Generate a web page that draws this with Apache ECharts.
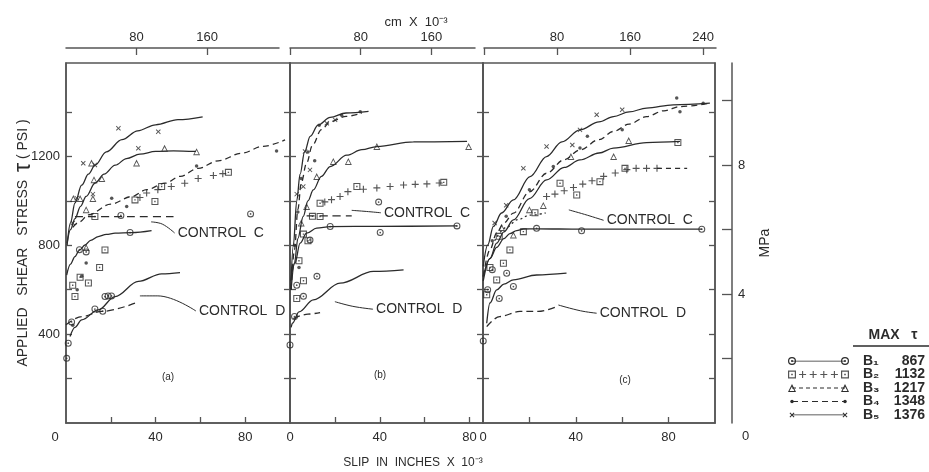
<!DOCTYPE html>
<html><head><meta charset="utf-8">
<script src="https://cdn.jsdelivr.net/npm/echarts@6/dist/echarts.min.js"></script>
<style>html,body{margin:0;padding:0;background:#fff}#c{width:929px;height:472px}</style>
</head><body><div id="c"></div>
<script>
// ---------- axes / ticks ----------
const slipMax = [100, 86, 100];          // slip, inches x 10^-3, per panel
const stressMax = 1620;                  // psi
const bottomTicks = [20, 40, 60, 80];
const bottomLabels = [0, 40, 80];
const stressTicks = [200, 400, 600, 800, 1000, 1200, 1400];
const stressLabels = [400, 800, 1200];
const cmTicks = [[80, 160], [0, 80, 160], [0, 80, 160, 240]];
const cmLabels = [[80, 160], [80, 160], [80, 160, 240]];
const mpaTicks = [2, 4, 6, 8, 10];
const mpaLabels = [0, 4, 8];
const panelNames = ['(a)', '(b)', '(c)'];
const legendKeys = ['B1', 'B2', 'B3', 'B4', 'B5'];
const legendText = ['B\u2081', 'B\u2082', 'B\u2083', 'B\u2084', 'B\u2085'];
const maxTau = [867, 1132, 1217, 1348, 1376];

// ---------- panel (a) ----------
const a_B1_curve = [[0.3,666],[2,715],[4,749],[6,778],[8.5,801],[11,822],[14.4,839],[18,849],[21.9,854],[29.3,857],[38.2,866]];
const a_B1_pts = [[0.3,291],[1,359],[2.5,455],[17.4,569],[18.8,572],[20.3,572],[12.9,513],[16.4,503],[28.6,857],[24.5,934],[82.4,941],[6,780],[9,770]];
const a_B2_plus = [[33,1015],[36,1035],[41,1050],[47,1064],[53,1079],[59,1100],[65.8,1114],[70,1122]];
const a_B2_pts = [[30.8,1004],[39.7,997],[42.7,1064],[12.9,929],[17.4,779],[4,569],[6.3,656],[72.5,1128],[10,630],[3,620],[15,700]];
const a_B3_curve = [[0.5,810],[2,870],[4,920],[6.5,975],[9,1020],[13,1080],[17,1120],[22,1160],[27,1190],[33,1210],[40,1222],[48,1225],[58,1222]];
const a_B3_pts = [[3.3,1010],[6.3,1010],[9,960],[11.4,1170],[12.5,1095],[16,1100],[12,1010],[31.5,1170],[44,1236],[58.3,1221],[9,790]];
const a_B4_curve = [[3,880],[6,905],[10,937],[20,985],[29.3,1019],[36,1050],[44.2,1079],[51,1110],[59,1146],[68,1180],[78.4,1214],[88,1245],[97.8,1274]];
const a_B4_pts = [[20.4,1011],[27.1,974],[58.3,1157],[94,1224],[7,660],[5,600],[9,720],[3,440]];
const a_B5_curve = [[0.5,800],[2,900],[4,990],[7,1070],[10,1120],[13,1160],[18,1220],[25,1275],[32,1315],[40,1342],[50,1365],[61,1378]];
const a_B5_pts = [[7.7,1169],[12.9,1161],[23.4,1326],[32.3,1236],[41.2,1311],[4.8,1012],[3,900],[12,1030]];
const a_ctrlC = [[4,929],[20,929],[35,929],[48,929]];
const a_ctrlD = [[0,442],[7,479],[15.9,502],[30.8,539]];
const a_lower = [[1.8,389],[4,430],[7,464],[14.4,509],[21.9,569],[32.3,637],[42.7,671],[50.9,677]];
const a_leadC = [[38,905],[43,895],[48.5,855]];
const a_leadD = [[33,572],[41,572],[58,504]];

// ---------- panel (b) ----------
const b_B1_curve = [[0.3,640],[2.2,719],[4.5,809],[7.4,854],[11.9,877],[17.9,884],[40,885],[74.4,887]];
const b_B1_pts = [[17.9,884],[40.2,857],[74.4,887],[39.5,994],[8.9,824],[6,570],[0,351],[2,479],[12,660],[3,620]];
const b_B2_plus = [[15.5,995],[18.5,1005],[22.3,1019],[25.8,1041],[32.7,1052],[38.7,1058],[44.6,1064],[50.6,1071],[55.8,1074],[61,1076],[66.5,1080]];
const b_B2_pts = [[13.4,989],[29.8,1064],[13.4,929],[68.5,1083],[6,850],[8,820],[4,730],[6,640],[3,560],[10,930]];
const b_B3_curve = [[0.5,600],[2,720],[3.5,830],[5.9,930],[8,1000],[10.4,1049],[14,1110],[17.9,1154],[25.3,1205],[32,1230],[38.7,1244],[55,1265],[78.9,1267]];
const b_B3_pts = [[38.7,1244],[79.6,1244],[26,1177],[19.3,1177],[11.9,1109],[7.4,974],[5,900]];
const b_B4_curve = [[0.5,600],[2,780],[3.5,960],[5,1080],[7.4,1170],[10,1250],[14,1320],[18,1356],[25,1380],[32,1394]];
const b_B4_pts = [[31.3,1401],[23,1385],[13,1340],[8,1220],[5,1100],[11,1180],[3.5,950],[2,800],[4,700]];
const b_B5_curve = [[0.3,600],[1.5,800],[3,1000],[4.5,1120],[6.5,1220],[9,1290],[12.5,1340],[17.9,1375],[25,1395],[35,1402]];
const b_B5_pts = [[16.4,1349],[20.1,1364],[6.7,1222],[8.9,1139],[5.9,1064],[3,1030]];
const b_ctrlC = [[7.4,932],[17.9,932],[27.5,932]];
const b_ctrlD = [[1.5,470],[8,490],[13.4,497]];
const b_lower = [[0.5,430],[1.1,449],[4,500],[10.4,554],[22.3,629],[37.2,682],[50.6,689]];
const b_leadC = [[27.5,957],[34,952],[40.5,946]];
const b_leadD = [[20,546],[28,525],[37,512]];

// ---------- panel (c) ----------
const c_B1_curve = [[0.1,640],[3,740],[5.9,790],[9,830],[11.6,852],[14.5,866],[17.4,873],[23.1,874],[42.5,872],[94.3,872]];
const c_B1_pts = [[23.1,876],[42.5,865],[94.3,872],[13.1,614],[10.2,674],[0.1,369],[4,690],[2,600],[7,560]];
const c_B2_plus = [[27.4,1019],[31,1030],[35,1045],[39,1060],[43,1075],[47,1090],[52,1110],[57,1125],[62,1140],[66,1146],[70.5,1146],[75,1146]];
const c_B2_tail = [[75,1146],[88,1146]];
const c_B2_pts = [[61.2,1146],[50.4,1086],[40.4,1026],[33.2,1079],[22.4,946],[17.4,861],[11.6,779],[8.8,719],[5.9,644],[1.6,577],[84,1262],[3,700],[7,840]];
const c_B3_curve = [[0.1,659],[3,740],[5.9,809],[9,860],[13.1,914],[20,1010],[27.4,1094],[35,1150],[41.8,1184],[50,1215],[56.2,1237],[70.5,1262],[84.9,1267]];
const c_B3_pts = [[62.8,1271],[56.3,1199],[37.9,1199],[26,979],[13.1,846],[20,960],[8,880]];
const c_B4_curve = [[0.1,660],[3,780],[5.9,855],[9,900],[13.1,944],[20,1040],[27.4,1124],[35,1185],[41.8,1229],[50,1275],[56.2,1312],[63,1345],[70.5,1379],[78,1405],[84.9,1424],[97.8,1439]];
const c_B4_pts = [[83.5,1462],[94.9,1439],[84.9,1401],[41.8,1237],[30.3,1154],[60,1320],[45,1290],[20,1050],[10,930],[4,820]];
const c_B5_curve = [[0.1,705],[2,800],[4.5,885],[8,945],[13.1,1004],[20.3,1109],[27.4,1199],[34,1265],[41.8,1319],[50,1355],[56.2,1379],[63,1400],[70.5,1417],[82,1432],[97.8,1439]];
const c_B5_pts = [[27.4,1244],[17.4,1146],[49,1387],[38.5,1251],[41.8,1319],[10,980],[5,900],[60,1410]];
const c_ctrlC = [[5,820],[10,880],[15,915],[20,935],[27,945]];
const c_ctrlD = [[1.6,434],[7.2,479],[15.9,502],[23.8,502],[31.9,524]];
const c_lower = [[1.6,449],[3,540],[5.9,599],[9,625],[13.1,644],[23.1,666],[36,674]];
const c_leadC = [[37,959],[45,935],[52,912]];
const c_leadD = [[32.5,531],[42,505],[49,494]];

// ---------- legend sample positions (0..1 along the sample line) ----------
const legendEnds = [0, 1];
const legendPlusSteps = [0.2, 0.4, 0.6, 0.8];

// ---------- build ----------
const INK = '#2b2b2b', FRAME = '#555', FONT = 'Liberation Sans';
const SYM = {
  ring: 'path://M0,-10A10,10 0 1,1 0,10A10,10 0 1,1 0,-10Z M0,-7A7,7 0 1,0 0,7A7,7 0 1,0 0,-7Z M0,-2.5A2.5,2.5 0 1,1 0,2.5A2.5,2.5 0 1,1 0,-2.5Z',
  sq: 'path://M-10,-10H10V10H-10Z M-7,-7V7H7V-7Z M-2,-2H2V2H-2Z',
  tri: 'path://M0,-10L10,8H-10Z M0,-4.5L-6.2,5.6H6.2Z',
  plus: 'path://M-10,-1.6H-1.6V-10H1.6V-1.6H10V1.6H1.6V10H-1.6V1.6H-10Z',
  dot: 'circle'
};
const panels = [
  {B1c:a_B1_curve,B1p:a_B1_pts,B2x:a_B2_plus,B2p:a_B2_pts,B2t:null,B3c:a_B3_curve,B3p:a_B3_pts,B4c:a_B4_curve,B4p:a_B4_pts,B5c:a_B5_curve,B5p:a_B5_pts,C:a_ctrlC,D:a_ctrlD,L:a_lower,lc:a_leadC,ld:a_leadD},
  {B1c:b_B1_curve,B1p:b_B1_pts,B2x:b_B2_plus,B2p:b_B2_pts,B2t:null,B3c:b_B3_curve,B3p:b_B3_pts,B4c:b_B4_curve,B4p:b_B4_pts,B5c:b_B5_curve,B5p:b_B5_pts,C:b_ctrlC,D:b_ctrlD,L:b_lower,lc:b_leadC,ld:b_leadD},
  {B1c:c_B1_curve,B1p:c_B1_pts,B2x:c_B2_plus,B2p:c_B2_pts,B2t:c_B2_tail,B3c:c_B3_curve,B3p:c_B3_pts,B4c:c_B4_curve,B4p:c_B4_pts,B5c:c_B5_curve,B5p:c_B5_pts,C:c_ctrlC,D:c_ctrlD,L:c_lower,lc:c_leadC,ld:c_leadD}
];
const panelGrid = [
  {left:66, top:63, width:224, height:360},
  {left:290, top:63, width:193, height:360},
  {left:483, top:63, width:232, height:360}
];
const cmGrid = [
  {left:66, top:47, width:213, height:1},
  {left:290, top:47, width:185, height:1},
  {left:484, top:47, width:232, height:1}
];
const legendGrid = {left:792, top:361, width:53, height:54};

const axLine = {show:true, lineStyle:{color:FRAME, width:1.5}};
const txt = {color:INK, fontFamily:FONT, fontSize:13};
const plain = v => String(v);
const grids = [], xAxes = [], yAxes = [], series = [];

panelGrid.forEach((g, i) => {
  grids.push(Object.assign({show:true, borderColor:FRAME, borderWidth:1.5, backgroundColor:'transparent'}, g));
  xAxes.push({gridIndex:i, type:'value', min:0, max:slipMax[i], position:'bottom',
    axisLine:axLine, splitLine:{show:false},
    axisTick:{show:true, inside:true, length:6, customValues:bottomTicks, lineStyle:{color:FRAME, width:1.3}},
    axisLabel:Object.assign({customValues:bottomLabels, margin:8,
      formatter: v => (i === 0 && v === 0) ? '{l|0}' : String(v),
      rich:{l:{padding:[0, 22, 0, 0], color:INK, fontFamily:FONT, fontSize:13}}}, txt)});
});
cmGrid.forEach((g, i) => {
  grids.push(Object.assign({show:false}, g));
  const pxPerInch = panelGrid[i].width / slipMax[i];
  xAxes.push({gridIndex:3+i, type:'value', min:0, max:g.width / pxPerInch * 2.54, position:'top',
    axisLine:axLine, splitLine:{show:false},
    axisTick:{show:true, inside:true, length:7, customValues:cmTicks[i], lineStyle:{color:FRAME, width:1.3}},
    axisLabel:Object.assign({customValues:cmLabels[i], margin:3, formatter:plain}, txt)});
});
grids.push(Object.assign({show:false}, legendGrid));
xAxes.push({gridIndex:6, type:'value', min:0, max:1, show:false});

// y axes: 0-2 left, 3-5 right ticks, 6 MPa, 7-9 cm dummies, 10 legend
for (let i = 0; i < 3; i++) {
  yAxes.push({gridIndex:i, type:'value', min:0, max:stressMax, position:'left',
    axisLine:axLine, splitLine:{show:false},
    axisTick:{show:true, inside:true, length:6, customValues:stressTicks, lineStyle:{color:FRAME, width:1.3}},
    axisLabel:Object.assign({show:i===0, customValues:stressLabels, margin:6, formatter:plain}, txt),
    name: i===0 ? 'APPLIED   SHEAR   STRESS  {t|\u03C4} ( PSI )' : '',
    nameLocation:'middle', nameRotate:90, nameGap:31, nameMoveOverlap:false,
    nameTextStyle:{color:INK, fontFamily:FONT, fontSize:14, rich:{t:{fontSize:23, fontFamily:FONT, color:INK}}}});
}
for (let i = 0; i < 3; i++) {
  yAxes.push({gridIndex:i, type:'value', min:0, max:stressMax, position:'right',
    axisLine:axLine, splitLine:{show:false}, axisLabel:{show:false},
    axisTick:{show:true, inside:true, length:6, customValues:stressTicks, lineStyle:{color:FRAME, width:1.3}}});
}
yAxes.push({gridIndex:2, type:'value', min:0, max:stressMax / 145.038, position:'right', offset:17,
  axisLine:axLine, splitLine:{show:false},
  axisTick:{show:true, inside:true, length:10, customValues:mpaTicks, lineStyle:{color:FRAME, width:1.3}},
  axisLabel:Object.assign({customValues:mpaLabels, margin:6,
    formatter: v => v === 0 ? '{z|0}' : String(v),
    rich:{z:{padding:[26, 0, 0, 4], color:INK, fontFamily:FONT, fontSize:13}}}, txt),
  name:'MPa', nameLocation:'middle', nameRotate:90, nameGap:26, nameMoveOverlap:false,
  nameTextStyle:{color:INK, fontFamily:FONT, fontSize:14}});
for (let i = 0; i < 3; i++) yAxes.push({gridIndex:3+i, type:'value', show:false, min:0, max:1});
yAxes.push({gridIndex:6, type:'category', data:legendKeys, inverse:true, boundaryGap:false, position:'right',
  axisLine:{show:false}, axisTick:{show:false}, splitLine:{show:false},
  axisLabel:{interval:0, margin:18, formatter:(v, i) => '{b|' + legendText[i] + '}{v|' + maxTau[i] + '}',
    rich:{b:{width:28, fontSize:14, fontWeight:'bold', fontFamily:FONT, color:INK},
          v:{width:34, align:'right', fontSize:14, fontWeight:'bold', fontFamily:FONT, color:INK}}}});

function curve(data, i, type, w) {
  return {type:'line', xAxisIndex:i, yAxisIndex:i, data:data, symbol:'none', showSymbol:false,
    smooth:0.35, smoothMonotone:'x', silent:true, animation:false,
    lineStyle:{color:INK, width:w || 1.3, type:type || 'solid'}};
}
function pts(data, i, sym, size, rot) {
  return {type:'scatter', xAxisIndex:i, yAxisIndex:i, data:data, symbol:sym, symbolSize:size,
    symbolRotate:rot || 0, silent:true, animation:false, itemStyle:{color:INK}};
}
function leader(data, i, text) {
  return {type:'line', xAxisIndex:i, yAxisIndex:i, data:data, symbol:'none', showSymbol:false,
    smooth:0.4, silent:true, animation:false, lineStyle:{color:INK, width:1},
    endLabel:{show:true, formatter:text, distance:3, color:INK, fontFamily:FONT, fontSize:14}};
}
panels.forEach((p, i) => {
  series.push(curve(p.B1c, i), pts(p.B1p, i, SYM.ring, 7));
  series.push(pts(p.B2x, i, SYM.plus, 7), pts(p.B2p, i, SYM.sq, 7));
  if (p.B2t) series.push(curve(p.B2t, i, [5, 4]));
  series.push(curve(p.B3c, i), pts(p.B3p, i, SYM.tri, 7));
  series.push(curve(p.B4c, i, [6, 4]), pts(p.B4p, i, SYM.dot, 3.5));
  series.push(curve(p.B5c, i), pts(p.B5p, i, SYM.plus, 6, 45));
  series.push(curve(p.C, i, i === 2 ? [2, 3] : [8, 5]), curve(p.D, i, [7, 4]), curve(p.L, i));
  series.push(leader(p.lc, i, 'CONTROL  C'), leader(p.ld, i, 'CONTROL  D'));
});

// legend samples (drawn on the legend grid through its axes)
const row = (key, xs) => xs.map(x => [x, key]);
const lgLine = (key, type, sym, size, rot) => ({type:'line', xAxisIndex:6, yAxisIndex:10, data:row(key, legendEnds),
  silent:true, animation:false, showSymbol:true, symbol:sym, symbolSize:size, symbolRotate:rot || 0,
  itemStyle:{color:INK}, lineStyle:{color:INK, width:1.1, type:type}});
const lgPts = (key, xs, sym, size) => ({type:'scatter', xAxisIndex:6, yAxisIndex:10, data:row(key, xs),
  silent:true, animation:false, symbol:sym, symbolSize:size, itemStyle:{color:INK}});
series.push(lgLine('B1', 'solid', SYM.ring, 8));
series.push(lgPts('B2', legendEnds, SYM.sq, 8), lgPts('B2', legendPlusSteps, SYM.plus, 7));
series.push(lgLine('B3', [4, 3], SYM.tri, 8));
series.push(lgLine('B4', [6, 4], SYM.dot, 3.5));
series.push(lgLine('B5', 'solid', SYM.plus, 6, 45));

const graphic = [
  {type:'text', style:{text:'cm  X  10\u207B\u00B3', font:'13px "Liberation Sans"', fill:INK, x:416, y:22, align:'center', verticalAlign:'middle'}},
  {type:'text', style:{text:'SLIP  IN  INCHES  X  10\u207B\u00B3', font:'12px "Liberation Sans"', fill:INK, x:413, y:463, align:'center', verticalAlign:'middle'}},
  {type:'text', style:{text:'MAX   \u03C4', font:'bold 14px "Liberation Sans"', fill:INK, x:893, y:335, align:'center', verticalAlign:'middle'}},
  {type:'line', shape:{x1:853, y1:346, x2:929, y2:346}, style:{stroke:INK, lineWidth:1.5}},
  {type:'text', style:{text:panelNames[0], font:'10px "Liberation Sans"', fill:INK, x:168, y:377, align:'center', verticalAlign:'middle'}},
  {type:'text', style:{text:panelNames[1], font:'10px "Liberation Sans"', fill:INK, x:380, y:375, align:'center', verticalAlign:'middle'}},
  {type:'text', style:{text:panelNames[2], font:'10px "Liberation Sans"', fill:INK, x:625, y:380, align:'center', verticalAlign:'middle'}}
];

const chart = echarts.init(document.getElementById('c'), null, {renderer:'canvas'});
chart.setOption({backgroundColor:'#fff', animation:false, grid:grids, xAxis:xAxes, yAxis:yAxes, series:series, graphic:graphic});
</script></body></html>
